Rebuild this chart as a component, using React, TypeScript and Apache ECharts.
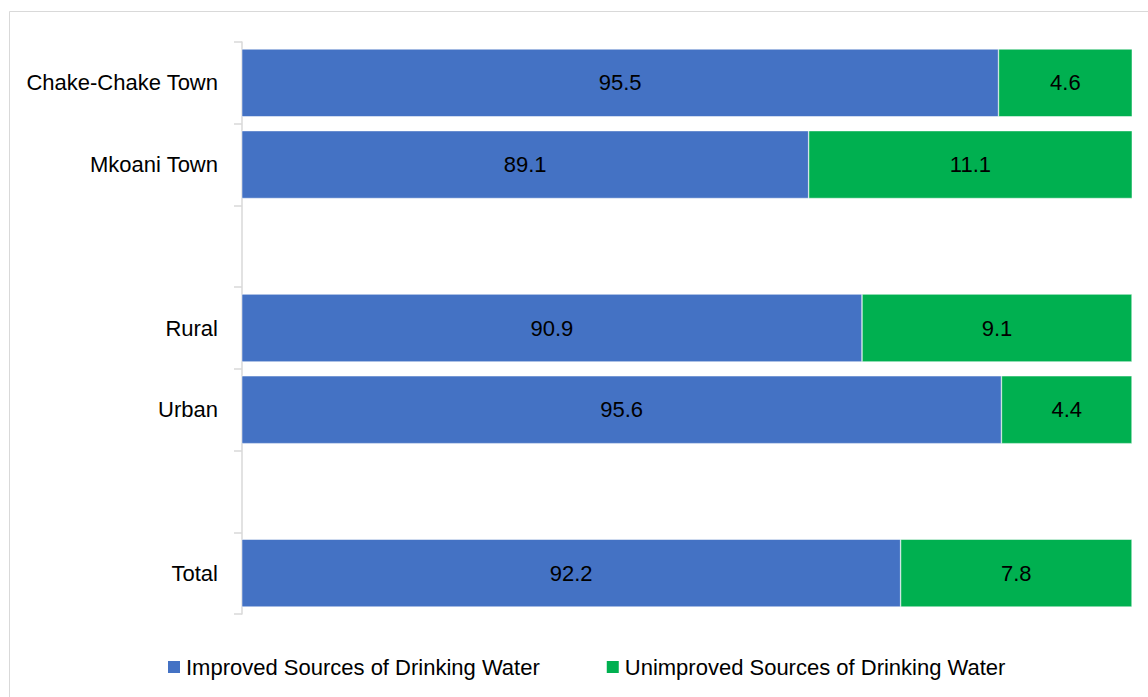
import React, { useEffect, useRef } from "react";
import * as echarts from "echarts";

const categories = ["Chake-Chake Town", "Mkoani Town", "", "Rural", "Urban", "", "Total"];
const improved = [95.5, 89.1, null, 90.9, 95.6, null, 92.2];
const unimproved = [4.6, 11.1, null, 9.1, 4.4, null, 7.8];
const seriesNames = ["Improved Sources of Drinking Water", "Unimproved Sources of Drinking Water"];
const axisMin = 70;
const axisMax = 100;

const FONT = "'Liberation Sans', Arial, sans-serif";
const FS = 22;

export default function App() {
  const ref = useRef<HTMLDivElement>(null);
  useEffect(() => {
    const chart = echarts.init(ref.current!, null, { renderer: "svg" });
    const labelStyle = {
      show: true,
      position: "inside",
      color: "#000",
      fontSize: FS,
      fontFamily: FONT,
      formatter: (p: any) => (p.value == null ? "" : String(p.value)),
    };
    chart.setOption({
      animation: false,
      backgroundColor: "#fff",
      textStyle: { fontFamily: FONT },
      graphic: [
        {
          type: "rect",
          shape: { x: 9.5, y: 11.5, width: 1300, height: 800 },
          style: { fill: "none", stroke: "#d9d9d9", lineWidth: 1 },
          silent: true,
          z: -1,
        },
      ],
      grid: { left: 242, right: 16, top: 42, bottom: 83, containLabel: false },
      legend: {
        left: 161,
        top: 651,
        icon: "rect",
        itemWidth: 14,
        itemHeight: 14,
        itemGap: 65,
        textStyle: { fontSize: FS, color: "#000", fontFamily: FONT },
        data: seriesNames,
      },
      xAxis: {
        type: "value",
        min: axisMin,
        max: axisMax,
        show: false,
      },
      yAxis: {
        type: "category",
        data: categories,
        inverse: true,
        axisLine: { lineStyle: { color: "#d9d9d9", width: 1.5 } },
        axisTick: { show: true, length: 8, lineStyle: { color: "#d9d9d9", width: 1.5 } },
        axisLabel: { fontSize: FS, color: "#000", fontFamily: FONT, margin: 24 },
        splitLine: { show: false },
      },
      series: [
        {
          name: seriesNames[0],
          type: "bar",
          stack: "total",
          data: improved,
          barCategoryGap: "17%",
          clip: true,
          itemStyle: { color: "#4472C4", borderColor: "#ffffff", borderWidth: 0.5 },
          label: labelStyle,
        },
        {
          name: seriesNames[1],
          type: "bar",
          stack: "total",
          data: unimproved,
          barCategoryGap: "17%",
          clip: true,
          itemStyle: { color: "#00B050", borderColor: "#ffffff", borderWidth: 0.5 },
          label: labelStyle,
        },
      ],
    });
    return () => chart.dispose();
  }, []);
  return (
    <div
      ref={ref}
      style={{ position: "fixed", left: 0, top: 0, width: 1148, height: 697 }}
    />
  );
}
